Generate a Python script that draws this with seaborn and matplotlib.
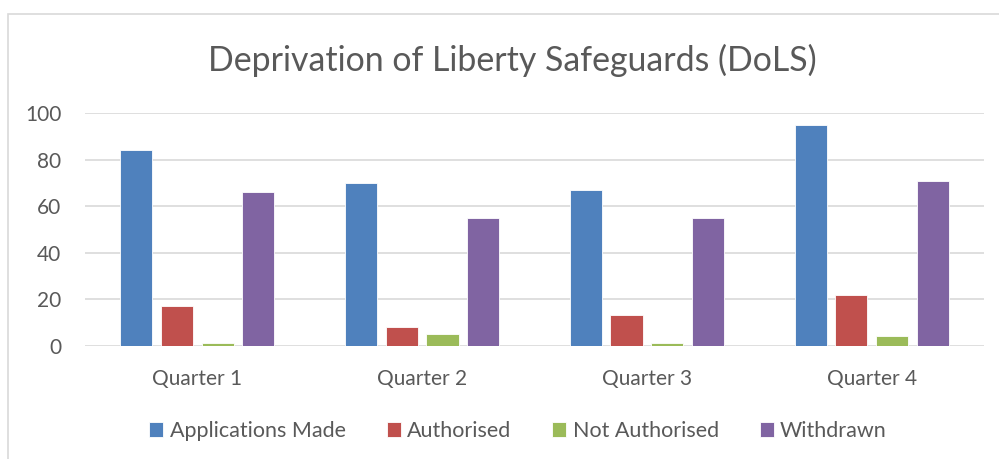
import pandas as pd
import seaborn as sns
import matplotlib.pyplot as plt
from matplotlib.patches import Rectangle

quarters = ["Quarter 1", "Quarter 2", "Quarter 3", "Quarter 4"]
series = ["Applications Made", "Authorised", "Not Authorised", "Withdrawn"]
applications_made = [84, 70, 67, 95]
authorised = [17, 8, 13, 22]
not_authorised = [1, 5, 1, 4]
withdrawn = [66, 55, 55, 71]
y_ticks = [0, 20, 40, 60, 80, 100]

colors = ["#4F81BD", "#C0504D", "#9BBB59", "#8064A2"]
text_color = "#595959"
grid_color = "#D9D9D9"

df = pd.DataFrame({
    "Quarter": quarters * 4,
    "Series": [s for s in series for _ in quarters],
    "Value": applications_made + authorised + not_authorised + withdrawn,
})

sns.set_style("white")
plt.rcParams["font.family"] = ["Lato", "DejaVu Sans"]

fig = plt.figure(figsize=(9.99, 4.59), dpi=100)
ax = fig.add_axes([85 / 999, 1 - 345.7 / 459, (984 - 85) / 999, (345.7 - 113.3) / 459])

sns.barplot(data=df, x="Quarter", y="Value", hue="Series", hue_order=series,
            palette=colors, width=0.724, gap=0.21, saturation=1,
            edgecolor="white", linewidth=0.6, ax=ax, zorder=3)

ax.set_ylim(0, 100)
ax.set_xlim(-0.5, 3.5)
ax.set_yticks(y_ticks)
ax.yaxis.grid(True, color=grid_color, linewidth=1.2, zorder=0)
ax.set_axisbelow(True)
for s in ax.spines.values():
    s.set_visible(False)
ax.tick_params(axis="both", length=0, labelsize=15, labelcolor=text_color)
ax.tick_params(axis="y", pad=17)
ax.tick_params(axis="x", pad=17)
ax.set_xlabel("")
ax.set_ylabel("")

fig.text(512 / 999, 1 - 60 / 459, "Deprivation of Liberty Safeguards (DoLS)",
         ha="center", va="center", fontsize=24.4, color=text_color)

leg = ax.legend(loc="center", bbox_to_anchor=(518 / 999, 1 - 431 / 459),
                bbox_transform=fig.transFigure, ncol=4, frameon=False,
                fontsize=15.5, handlelength=0.65, handleheight=0.7,
                handletextpad=0.3, columnspacing=1.9)
for t in leg.get_texts():
    t.set_color(text_color)

# chart area border
fig.patches.append(Rectangle((8 / 999, -0.1), 1.2, 1 - 14 / 459 + 0.1,
                             transform=fig.transFigure, fill=False,
                             edgecolor=grid_color, linewidth=1.2))

fig.savefig("out.png", dpi=100, facecolor="white")
